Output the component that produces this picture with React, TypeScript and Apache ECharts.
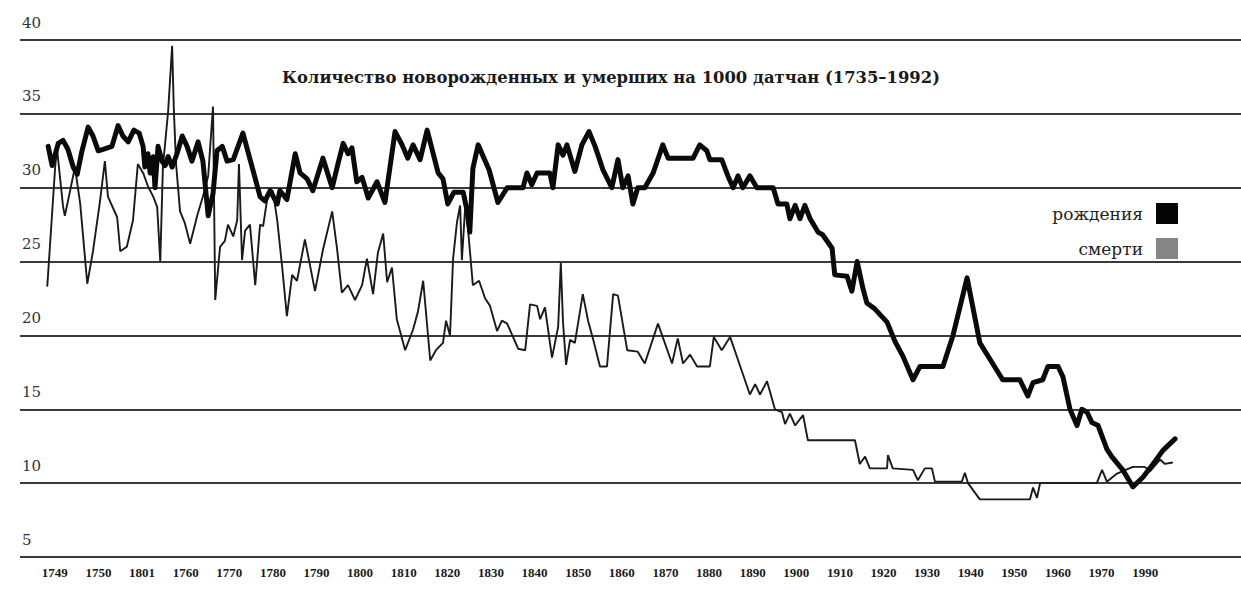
import React, { useEffect, useRef } from "react";
import * as echarts from "echarts";

const titleText = "Количество новорожденных и умерших на 1000 датчан (1735–1992)";
const birthName = "рождения";
const deathName = "смерти";

const xLabels = ["1749","1750","1801","1760","1770","1780","1790","1800","1810","1820","1830","1840","1850","1860","1870","1880","1890","1900","1910","1920","1930","1940","1950","1960","1970","1990"];

const birthYears = [1735.7,1736.6,1738.0,1739.1,1740.2,1741.4,1742.3,1743.4,1744.8,1745.9,
1747.1,1748.2,1750.2,1751.6,1752.7,1753.9,1755.2,1756.4,1757.3,1757.7,
1758.4,1758.9,1759.6,1760.0,1760.7,1761.6,1762.3,1763.0,1763.9,1765.0,
1766.2,1767.3,1768.4,1769.8,1770.9,1772.1,1773.2,1774.1,1775.3,1776.4,
1777.8,1780.0,1782.1,1783.9,1785.0,1786.2,1787.8,1788.4,1790.0,1791.9,
1793.0,1794.6,1795.9,1798.2,1800.3,1801.6,1802.8,1803.9,1804.8,1805.9,
1807.1,1808.5,1810.5,1812.3,1814.6,1816.2,1817.5,1818.7,1820.3,1821.9,
1823.2,1824.4,1825.5,1826.6,1828.0,1830.1,1831.0,1831.6,1832.3,1833.5,
1836.0,1838.0,1840.1,1843.7,1844.6,1845.7,1846.9,1849.8,1850.5,1851.7,
1852.8,1853.7,1855.5,1857.1,1858.7,1860.1,1861.9,1863.9,1865.3,1866.4,
1867.6,1868.7,1869.8,1871.4,1873.3,1875.5,1876.7,1882.4,1883.9,1885.5,
1886.2,1888.9,1890.3,1891.5,1892.6,1893.7,1895.3,1896.9,1900.6,1901.7,
1903.7,1904.4,1905.6,1906.7,1907.8,1909.0,1910.8,1911.9,1914.0,1914.6,
1917.4,1918.5,1919.7,1921.0,1921.9,1923.7,1926.5,1928.3,1930.1,1932.4,
1934.0,1939.2,1941.5,1944.7,1947.6,1950.3,1952.8,1956.7,1958.5,1959.7,
1961.9,1963.1,1965.4,1966.5,1968.1,1969.7,1970.8,1972.0,1973.1,1974.5,
1976.5,1977.6,1980.1,1982.4,1984.7,1987.0,1989.2,1992.0];

const birthRates = [32.8,31.5,33.0,33.2,32.6,31.4,30.9,32.5,34.1,33.5,
32.5,32.6,32.8,34.2,33.5,33.1,33.9,33.7,32.8,31.4,
32.3,31.0,32.1,30.0,32.8,31.8,31.5,32.1,31.4,32.3,
33.5,32.8,31.8,33.1,31.8,28.1,29.6,32.5,32.8,31.8,
31.9,33.7,31.4,29.4,29.1,29.8,28.9,29.8,29.2,32.3,
31.0,30.6,29.8,32.0,30.0,31.6,33.0,32.3,32.7,30.4,
30.7,29.3,30.4,29.0,33.8,32.9,32.0,32.9,31.9,33.9,
32.4,31.0,30.6,28.9,29.7,29.7,28.4,27.0,31.3,32.9,
31.2,29.0,30.0,30.0,31.0,30.2,31.0,31.0,30.0,32.9,
32.2,32.9,31.1,32.9,33.8,32.8,31.2,30.0,31.9,30.0,
30.8,28.9,30.0,30.0,31.0,32.9,32.0,32.0,32.9,32.5,
31.9,31.9,30.8,30.0,30.8,30.0,30.8,30.0,30.0,28.9,
28.9,27.9,28.8,27.9,28.8,27.9,27.0,26.8,25.9,24.1,
24.0,23.0,25.0,23.2,22.2,21.8,20.9,19.6,18.6,17.0,
17.9,17.9,20.0,23.9,19.5,18.2,17.0,17.0,15.9,16.8,
17.0,17.9,17.9,17.2,15.0,13.9,15.0,14.8,14.1,13.9,
12.3,11.8,10.9,9.75,10.4,11.3,12.2,13.0];

const deathYears = [1735.5,1737.3,1737.7,1738.4,1739.1,1739.5,1740.7,1741.8,1743.0,1744.6,
1745.9,1747.5,1748.6,1749.3,1751.4,1752.1,1753.6,1755.0,1756.1,1757.3,
1758.4,1759.6,1760.5,1761.2,1761.8,1763.0,1763.9,1764.3,1764.8,1765.7,
1766.8,1768.0,1769.6,1770.9,1772.1,1773.2,1773.7,1774.8,1775.9,1776.6,
1777.8,1778.7,1779.1,1779.8,1780.5,1781.6,1782.8,1783.9,1784.6,1785.7,
1786.8,1787.8,1788.9,1790.0,1791.2,1792.3,1794.1,1796.4,1798.2,1800.3,
1801.4,1802.5,1803.9,1805.5,1807.1,1808.2,1809.6,1810.7,1811.9,1812.8,
1813.9,1815.0,1816.9,1818.7,1819.8,1821.0,1822.6,1823.9,1825.5,1826.2,
1827.1,1827.8,1828.7,1829.4,1829.8,1830.7,1831.2,1832.3,1833.7,1835.1,
1836.2,1837.8,1838.9,1840.1,1842.6,1844.2,1845.3,1846.9,1847.6,1848.7,
1850.3,1851.7,1852.3,1852.8,1853.5,1854.4,1855.5,1857.3,1858.5,1859.6,
1861.2,1862.8,1864.2,1865.3,1867.4,1869.8,1871.4,1874.4,1877.6,1878.9,
1880.1,1881.7,1883.3,1886.2,1887.1,1888.9,1890.8,1893.0,1895.3,1896.5,
1897.6,1899.2,1901.0,1902.6,1903.3,1904.4,1905.6,1907.4,1908.5,1919.2,
1920.3,1921.5,1922.6,1926.5,1926.7,1927.8,1932.4,1933.5,1935.1,1936.7,
1937.4,1943.5,1944.2,1944.9,1947.6,1959.0,1959.7,1960.6,1961.3,1974.2,
1975.4,1976.5,1978.8,1982.4,1985.1,1986.3,1988.6,1989.7,1991.5];

const deathRates = [23.3,31.4,32.7,30.7,28.7,28.1,29.8,31.4,28.9,23.5,
25.7,29.1,31.8,29.4,28.0,25.7,26.0,27.8,31.6,31.0,
30.1,29.4,28.7,25.0,31.4,35.2,39.6,35.2,31.6,28.4,
27.6,26.2,28.1,29.4,30.8,35.5,22.4,26.0,26.4,27.5,
26.7,27.8,31.6,25.1,27.1,27.5,23.4,27.5,27.4,29.6,
29.8,27.8,24.7,21.3,24.1,23.7,26.5,23.0,25.8,28.4,
25.9,22.9,23.4,22.4,23.4,25.2,22.8,25.6,26.9,23.6,
24.6,21.1,19.0,20.4,21.6,23.7,18.3,19.0,19.5,21.0,
20.0,25.2,27.7,28.8,25.1,29.4,27.2,23.4,23.7,22.5,
22.0,20.3,21.0,20.8,19.1,19.0,22.1,22.0,21.1,21.9,
18.5,20.6,24.9,20.9,18.0,19.7,19.5,22.8,21.0,19.8,
17.9,17.9,22.8,22.7,19.0,18.9,18.1,20.8,18.1,19.8,
18.1,18.7,17.9,17.9,19.9,19.0,19.9,18.0,16.0,16.7,
16.0,16.9,15.0,14.8,14.0,14.7,13.9,14.6,12.9,12.9,
11.3,11.8,11.0,11.0,11.9,11.0,10.9,10.2,11.0,11.0,
10.1,10.1,10.7,10.0,8.9,8.9,9.7,9.0,10.0,10.0,
10.9,10.1,10.65,11.1,11.1,10.8,11.6,11.3,11.4];

const SERIF = "'DejaVu Serif', 'Liberation Serif', serif";

export default function App() {
  const ref = useRef<HTMLDivElement>(null);
  useEffect(() => {
    if (!ref.current) return;
    const chart = echarts.init(ref.current, null, { renderer: "svg" });
    const births = birthYears.map((y, i) => [y, birthRates[i]]);
    const deaths = deathYears.map((y, i) => [y, deathRates[i]]);
    chart.setOption({
      animation: false,
      backgroundColor: "#ffffff",
      title: {
        text: titleText,
        left: 277,
        top: 64,
        textStyle: { fontFamily: SERIF, fontWeight: "bold", fontSize: 16.4, color: "#1a1a1a" },
      },
      legend: {
        orient: "vertical",
        right: 58,
        top: 198,
        align: "right",
        icon: "rect",
        itemWidth: 22,
        itemHeight: 21,
        itemGap: 14,
        selectedMode: false,
        textStyle: { fontFamily: SERIF, fontSize: 17, color: "#222", padding: [0, 8, 0, 0] },
        data: [
          { name: birthName, itemStyle: { color: "#050505" } },
          { name: deathName, itemStyle: { color: "#858585" } },
        ],
      },
      grid: [
        { left: 20, right: 0, top: 40, bottom: 33 },
        { left: 33, right: 74, top: 556, bottom: 33 },
      ],
      xAxis: [
        {
          type: "value",
          gridIndex: 0,
          min: 1729.3,
          max: 2007,
          axisLine: { show: false },
          axisTick: { show: false },
          axisLabel: { show: false },
          splitLine: { show: false },
        },
        {
          type: "category",
          gridIndex: 1,
          data: xLabels,
          boundaryGap: true,
          axisLine: { show: false },
          axisTick: { show: false },
          axisLabel: {
            interval: 0,
            margin: 9,
            fontFamily: "'Liberation Serif', serif",
            fontWeight: "bold",
            fontSize: 13,
            color: "#1a1a1a",
          },
        },
      ],
      yAxis: [
        {
          type: "value",
          gridIndex: 0,
          min: 5,
          max: 40,
          interval: 5,
          axisLine: { show: false },
          axisTick: { show: false },
          axisLabel: {
            inside: true,
            margin: 2,
            align: "left",
            verticalAlign: "bottom",
            padding: [0, 0, 10, 0],
            fontFamily: SERIF,
            fontSize: 15,
            color: "#333",
          },
          splitLine: { show: true, lineStyle: { color: "#3a3a3a", width: 2 } },
        },
        {
          type: "value",
          gridIndex: 1,
          show: false,
        },
      ],
      series: [
        {
          name: deathName,
          type: "line",
          xAxisIndex: 0,
          yAxisIndex: 0,
          data: deaths,
          showSymbol: false,
          symbol: "none",
          color: "#1a1a1a",
          lineStyle: { color: "#1a1a1a", width: 1.9 },
          z: 2,
        },
        {
          name: birthName,
          type: "line",
          xAxisIndex: 0,
          yAxisIndex: 0,
          data: births,
          showSymbol: false,
          symbol: "none",
          color: "#0a0a0a",
          lineStyle: { color: "#0a0a0a", width: 5, join: "round", cap: "round" },
          z: 3,
        },
      ],
    });
    return () => chart.dispose();
  }, []);
  return (
    <div
      ref={ref}
      style={{ position: "fixed", left: 0, top: 0, width: 1241, height: 590, background: "#fff" }}
    />
  );
}
